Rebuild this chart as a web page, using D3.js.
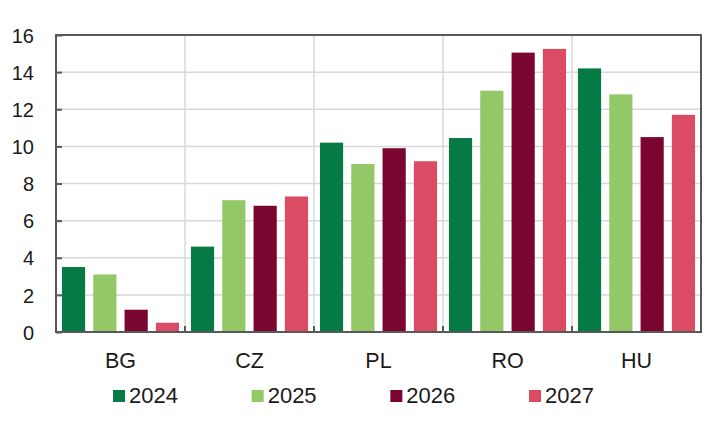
<!DOCTYPE html>
<html><head><meta charset="utf-8">
<script src="https://cdn.jsdelivr.net/npm/d3@7"></script>
<style>body{margin:0;background:#fff}svg{display:block}text{font-family:"Liberation Sans",Arial,sans-serif;fill:#1a1a1a}</style>
</head><body><svg id="c" width="721" height="423"></svg>
<script>
const categories = ["BG","CZ","PL","RO","HU"];
const seriesNames = ["2024","2025","2026","2027"];
const v2024 = [3.5, 4.6, 10.2, 10.45, 14.2];
const v2025 = [3.1, 7.1, 9.05, 13.0, 12.8];
const v2026 = [1.2, 6.8, 9.9, 15.05, 10.5];
const v2027 = [0.5, 7.3, 9.2, 15.25, 11.7];
const yTicks = [0,2,4,6,8,10,12,14,16];
const colors = ["#067A45","#92C866","#7A0530","#DC4B64"];
const values = [v2024, v2025, v2026, v2027];

const svg = d3.select("#c");
const m = {l:56, r:701, t:35, b:332};
const x = d3.scaleBand().domain(categories).range([m.l, m.r]).paddingInner(0).paddingOuter(0);
const xs = d3.scaleBand().domain(seriesNames).range([0, x.bandwidth()]).paddingInner(0.26).paddingOuter(0.19);
const y = d3.scaleLinear().domain([0,16]).range([m.b, m.t]);

// horizontal grid
svg.append("g").selectAll("line").data(yTicks.slice(1,-1)).join("line")
  .attr("x1", m.l).attr("x2", m.r).attr("y1", d=>y(d)).attr("y2", d=>y(d))
  .attr("stroke","#d9d9d9").attr("stroke-width",1.5);
// vertical grid at category boundaries
svg.append("g").selectAll("line").data(categories.slice(1)).join("line")
  .attr("x1", d=>x(d)).attr("x2", d=>x(d)).attr("y1", m.t).attr("y2", m.b)
  .attr("stroke","#d9d9d9").attr("stroke-width",1.5);

// bars
categories.forEach((c,i)=>{
  seriesNames.forEach((s,j)=>{
    svg.append("rect")
      .attr("x", x(c)+xs(s)).attr("width", xs.bandwidth())
      .attr("y", y(values[j][i])).attr("height", y(0)-y(values[j][i]))
      .attr("fill", colors[j]);
  });
});

// frame
svg.append("rect").attr("x",m.l).attr("y",m.t).attr("width",m.r-m.l).attr("height",m.b-m.t)
  .attr("fill","none").attr("stroke","#595959").attr("stroke-width",2);

// y axis
const ya = svg.append("g").attr("transform",`translate(${m.l},0)`)
  .call(d3.axisLeft(y).tickValues(yTicks).tickSize(-6).tickPadding(22).tickFormat(d3.format("d")));
ya.select(".domain").remove();
ya.selectAll("line").attr("stroke","#595959").attr("stroke-width",2);
ya.selectAll("text").attr("font-size",20).attr("dy","0.36em");

// x axis
const xa = svg.append("g").attr("transform",`translate(0,${m.b})`)
  .call(d3.axisBottom(x).tickSize(0));
xa.select(".domain").remove();
xa.selectAll("text").attr("font-size",21.5).attr("y",36).attr("dy",0);
// boundary tick marks
svg.append("g").selectAll("line").data(categories.slice(1)).join("line")
  .attr("x1", d=>x(d)).attr("x2", d=>x(d)).attr("y1", m.b).attr("y2", m.b-6)
  .attr("stroke","#595959").attr("stroke-width",2);

// legend
const lx = d3.scalePoint().domain(seriesNames).range([113, 529]);
const lg = svg.append("g").selectAll("g").data(seriesNames).join("g")
  .attr("transform", d=>`translate(${lx(d)},403)`);
lg.append("rect").attr("x",0).attr("y",-13).attr("width",12).attr("height",12).attr("fill",(d,i)=>colors[i]);
lg.append("text").attr("x",16).attr("y",0).attr("font-size",22).text(d=>d);
</script></body></html>
